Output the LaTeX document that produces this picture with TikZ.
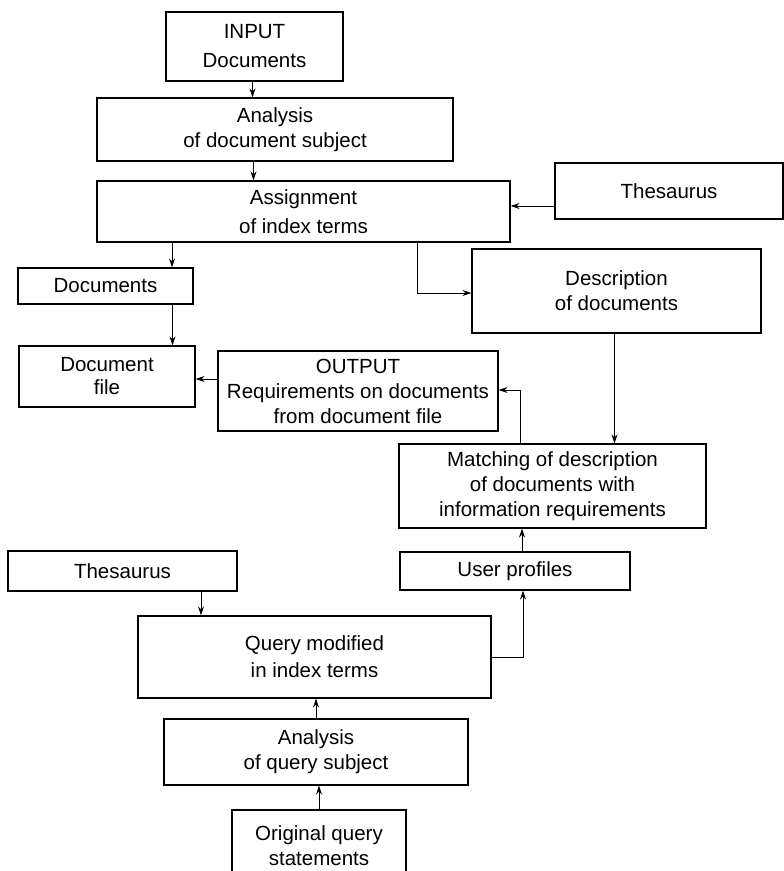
\documentclass[tikz,border=0pt]{standalone}
\usepackage{fontspec}
\setmainfont{Liberation Sans}
\usetikzlibrary{arrows.meta}
\tikzset{
  box/.style={draw, line width=1.2pt, inner sep=0pt, align=center,
    font=\fontsize{20.5}{25}\selectfont},
  conn/.style={line width=0.8pt},
  arr/.style={conn, -{Stealth[length=9pt,width=6pt]}},
}
\begin{document}
\begin{tikzpicture}[x=1pt,y=-1pt]
\useasboundingbox (0,0) rectangle (784,871);
\node[box, minimum width=177pt, minimum height=69pt, font=\fontsize{20.5}{29}\selectfont] (input) at (254.5,46.5) {INPUT\\Documents};
\node[box, minimum width=356pt, minimum height=63pt] (anadoc) at (275,129.5) {Analysis\\of document subject};
\node[box, minimum width=413pt, minimum height=61pt, font=\fontsize{20.5}{29}\selectfont] (assign) at (303.5,211.5) {Assignment\\of index terms};
\node[box, minimum width=228pt, minimum height=56pt] (thesa) at (669,191) {Thesaurus};
\node[box, minimum width=175pt, minimum height=36pt] (docs) at (105.5,286) {Documents};
\node[box, minimum width=289pt, minimum height=84pt] (desc) at (616.5,291) {Description\\of documents};
\node[box, minimum width=176pt, minimum height=61pt, font=\fontsize{20.5}{23}\selectfont] (docfile) at (107,376.5) {Document\\file};
\node[box, minimum width=280pt, minimum height=80pt] (output) at (358,391) {OUTPUT\\Requirements on documents\\from document file};
\node[box, minimum width=307pt, minimum height=84pt] (match) at (552.5,486) {Matching of description\\of documents with\\information requirements};
\node[box, minimum width=229pt, minimum height=40pt] (thesb) at (122.5,571) {Thesaurus};
\node[box, minimum width=230pt, minimum height=38pt] (userp) at (515,571) {User profiles};
\node[box, minimum width=353pt, minimum height=82pt, font=\fontsize{20.5}{27}\selectfont] (query) at (314.5,657) {Query modified\\in index terms};
\node[box, minimum width=304pt, minimum height=66pt] (anaq) at (316,752) {Analysis\\of query subject};
\node[box, minimum width=174pt, minimum height=72pt] (orig) at (319,846) {Original query\\statements};
% connectors
\draw[arr] ([xshift=-2pt]input.south) -- ([xshift=-2pt]input.south |- anadoc.north);
\draw[arr] ([xshift=-1pt]input.south |- anadoc.south) -- ([xshift=-1pt]input.south |- assign.north);
\draw[arr] ([yshift=-15pt]thesa.west) -- ([yshift=-15pt]thesa.west -| assign.east);
\draw[arr] ([xshift=66.5pt]docs.north |- assign.south) -- ([xshift=66.5pt]docs.north);
\draw[arr] ([xshift=67pt]docs.south) -- ([xshift=67pt]docs.south |- docfile.north);
\draw[arr] ([yshift=12pt]output.west) -- ([yshift=12pt]output.west -| docfile.east);
\draw[arr] ([xshift=113.5pt]assign.south) |- ([yshift=-2pt]desc.west);
\draw[arr] ([xshift=-2pt]desc.south) -- ([xshift=-2pt]desc.south |- match.north);
\draw[arr] ([xshift=-32.5pt]match.north) |- ([yshift=1pt]output.east);
\draw[arr] ([xshift=7pt]userp.north) -- ([xshift=7pt]userp.north |- match.south);
\draw[arr] (query.east) -| ([xshift=8pt]userp.south);
\draw[arr] ([xshift=78.5pt]thesb.south) -- ([xshift=78.5pt]thesb.south |- query.north);
\draw[arr] (anaq.north) -- (anaq.north |- query.south);
\draw[arr] (orig.north) -- (orig.north |- anaq.south);
\end{tikzpicture}
\end{document}
